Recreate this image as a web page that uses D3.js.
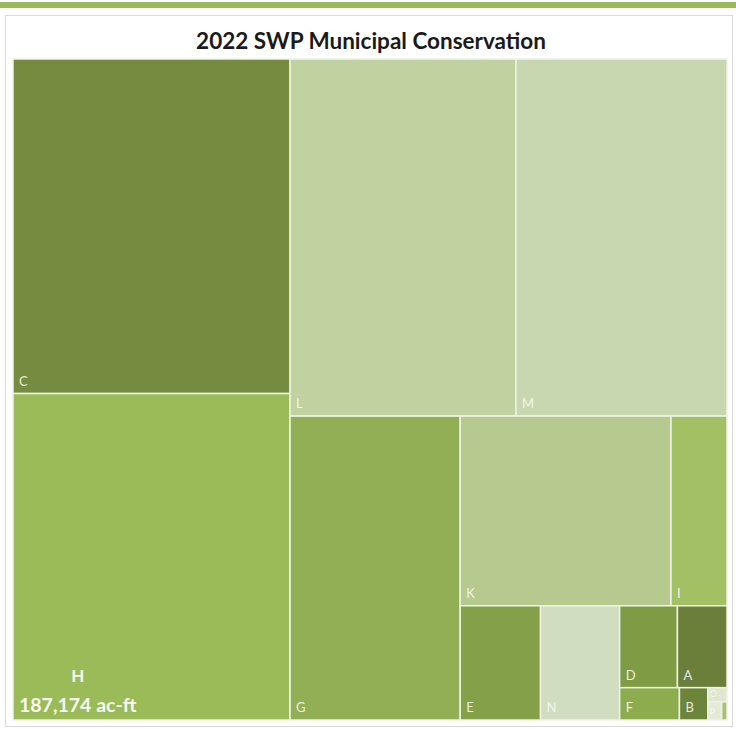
<!DOCTYPE html>
<html>
<head>
<meta charset="utf-8">
<script src="https://cdn.jsdelivr.net/npm/d3@7/dist/d3.min.js"></script>
<style>
  html, body { margin: 0; padding: 0; background: #ffffff; }
  svg { display: block; }
</style>
</head>
<body>
<svg id="chart" width="736" height="729"></svg>
<script>
// ---- data (ac-ft) ----
const title = "2022 SWP Municipal Conservation";
const categories = ["C", "H", "L", "M", "G", "K", "I", "E", "N", "D", "A", "F", "B", "O", "P", "Q"];
const values     = [191800, 187174, 167000, 155900, 107000, 82750, 22000, 19000, 18700, 9800, 8400, 4000, 1900, 560, 520, 200];
const colors     = ["#748b40", "#9bbb59", "#bfd2a0", "#c9d7b1", "#93af55", "#b6ca90", "#a3c065", "#84a14a",
                    "#d0ddc0", "#7f9b43", "#6b7f3a", "#8dac4e", "#6d843b", "#dfe7d2", "#e3ead8", "#a9bf72"];
const highlight = "H";
const unit = "ac-ft";

const W = 736, H = 729;
const svg = d3.select("#chart");

// top accent bar
svg.append("rect").attr("x", 0).attr("y", 2).attr("width", W).attr("height", 6).attr("fill", "#9bbb59");
// chart frame
svg.append("rect").attr("x", 5.5).attr("y", 15.5).attr("width", 727).attr("height", 711)
  .attr("fill", "#ffffff").attr("stroke", "#d9d9d9").attr("stroke-width", 1);

svg.append("text").attr("x", 371).attr("y", 49).attr("text-anchor", "middle")
  .attr("font-family", "Lato, 'Open Sans', sans-serif").attr("font-weight", 700)
  .attr("font-size", 22.5).attr("fill", "#1a1a1a").text(title);

// Excel-like tiling: squarified rows, accepted while the area-weighted aspect ratio does not grow
function excelTile(parent, x0, y0, x1, y1) {
  const nodes = parent.children, n = nodes.length;
  let value = parent.value, i0 = 0;
  while (i0 < n) {
    const dx = x1 - x0, dy = y1 - y0;
    const alongTop = dx < dy;
    const side = alongTop ? dx : dy;
    const k = (dx * dy) / value;
    const score = (a, b) => {
      let sum = 0;
      for (let i = a; i < b; i++) sum += nodes[i].value;
      const thick = sum * k / side;
      let w = 0;
      for (let i = a; i < b; i++) {
        const len = nodes[i].value * k / thick;
        w += nodes[i].value * Math.max(len / thick, thick / len);
      }
      return w / sum;
    };
    let i1 = i0 + 1, best = score(i0, i1);
    while (i1 < n) {
      const s = score(i0, i1 + 1);
      if (s > best) break;
      best = s; i1++;
    }
    let sum = 0;
    for (let i = i0; i < i1; i++) sum += nodes[i].value;
    const row = { value: sum, children: nodes.slice(i0, i1) };
    if (alongTop) {
      const t = value ? sum / value * dy : dy;
      d3.treemapDice(row, x0, y0, x1, y0 + t);
      y0 += t;
    } else {
      const t = value ? sum / value * dx : dx;
      d3.treemapSlice(row, x0, y0, x0 + t, y1);
      x0 += t;
    }
    value -= sum; i0 = i1;
  }
}

const data = { name: "root", children: categories.map((c, i) => ({ name: c, value: values[i], color: colors[i] })) };
const root = d3.hierarchy(data).sum(d => d.value || 0).sort((a, b) => b.value - a.value);

const px0 = 13, py0 = 59, px1 = 727, py1 = 720;
d3.treemap().tile(excelTile).size([px1 - px0, py1 - py0]).paddingInner(0)(root);

const g = svg.append("g").attr("transform", `translate(${px0},${py0})`);
const cells = g.selectAll("g.cell").data(root.leaves()).join("g").attr("class", "cell");

cells.append("rect")
  .attr("x", d => d.x0).attr("y", d => d.y0)
  .attr("width", d => Math.max(0, d.x1 - d.x0)).attr("height", d => Math.max(0, d.y1 - d.y0))
  .attr("fill", d => d.data.color)
  .attr("stroke", "#eef3e6").attr("stroke-width", 1.5);

const fmt = d3.format(",");
const small = d => (d.x1 - d.x0) < 25 || (d.y1 - d.y0) < 25;
cells.filter(d => d.data.name !== highlight && (d.x1 - d.x0) > 9 && (d.y1 - d.y0) > 9)
  .append("text")
  .attr("x", d => d.x0 + (small(d) ? 2 : 6))
  .attr("y", d => small(d) ? ((d.y1 - d.y0) < 16 ? d.y0 + 9 : d.y1 - 5) : d.y1 - 8)
  .attr("font-family", "Lato, 'Open Sans', sans-serif")
  .attr("font-size", d => small(d) ? 9 : 13)
  .attr("fill", "#f7f9f2").attr("fill-opacity", 0.9)
  .text(d => d.data.name);

// highlighted label with value
const hl = cells.filter(d => d.data.name === highlight);
hl.each(function(d) {
  const sel = d3.select(this);
  const t2 = sel.append("text")
    .attr("font-family", "Lato, 'Open Sans', sans-serif").attr("font-weight", 700)
    .attr("font-size", 19.5).attr("fill", "#f7f9f2")
    .attr("y", d.y1 - 8).text(`${fmt(d.value)} ${unit}`);
  const w = t2.node().getComputedTextLength();
  const cx = d.x0 + 6 + w / 2;
  t2.attr("x", cx).attr("text-anchor", "middle");
  sel.append("text")
    .attr("font-family", "Lato, 'Open Sans', sans-serif").attr("font-weight", 700)
    .attr("font-size", 17).attr("fill", "#f7f9f2")
    .attr("x", cx).attr("y", d.y1 - 38).attr("text-anchor", "middle").text(d.data.name);
});
</script>
</body>
</html>
